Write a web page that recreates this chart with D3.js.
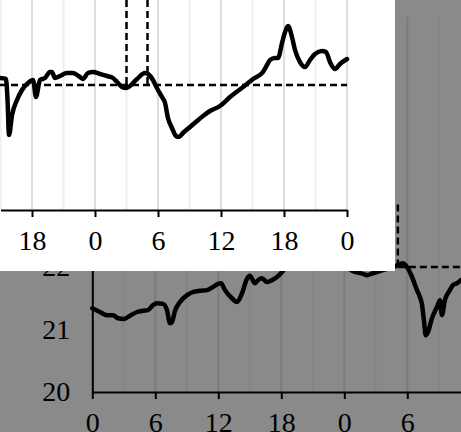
<!DOCTYPE html>
<html>
<head>
<meta charset="utf-8">
<script src="https://cdn.jsdelivr.net/npm/d3@7"></script>
<style>
  html, body { margin: 0; padding: 0; background: #8a8a8a; overflow: hidden; }
  text { font-family: "Liberation Serif", "Times New Roman", serif; }
</style>
</head>
<body>
<div id="wrapper"></div>
<script>
// background chart: hours since start of day 1, temperature
const bgHours = [0, 0.73, 1.4, 1.97, 2.45, 3.02, 3.59, 4.26, 4.83, 5.3, 5.78, 6.16, 6.73, 7.11, 7.4, 7.59, 7.88, 8.35,
  9.02, 9.59, 10.26, 10.92, 11.5, 11.97, 12.26, 12.64, 13.3, 13.78, 14.26, 14.73, 15.0, 15.5, 15.78, 16.16, 16.64,
  17.12, 17.59, 18.07, 18.35, 19.8, 21.7, 23.6, 24.73, 25.78, 26.16, 26.73, 27.68, 28.64, 29.11, 29.59, 29.97,
  30.45, 30.92, 31.2, 31.4, 31.6, 31.75, 31.97, 32.35, 32.83, 33.11, 33.3, 33.58, 34.06, 34.35, 34.73, 35.11];
const bgTemps = [21.34, 21.28, 21.23, 21.23, 21.18, 21.17, 21.22, 21.28, 21.30, 21.31, 21.39, 21.42, 21.41, 21.31,
  21.10, 21.12, 21.30, 21.44, 21.55, 21.60, 21.62, 21.63, 21.68, 21.73, 21.74, 21.63, 21.50, 21.44, 21.58, 21.81,
  21.86, 21.74, 21.79, 21.82, 21.76, 21.79, 21.84, 21.92, 21.98, 22.2, 22.27, 22.08, 21.94, 21.89, 21.87, 21.90,
  21.95, 22.0, 22.03, 22.06, 22.0, 21.84, 21.63, 21.52, 21.40, 21.12, 20.91, 20.96, 21.18, 21.36, 21.47, 21.23,
  21.47, 21.63, 21.71, 21.74, 21.79];
const bgXTicks = [0, 6, 12, 18, 24, 30];
const bgXLabels = ["0", "6", "12", "18", "0", "6"];
const bgYTicks = [20, 21, 22, 23, 24, 25, 26];
const bgThreshold = 22.0;
const bgMark = { hour: 29.1, top: 23.0 };

// inset chart: hours relative to midnight of its first full day
const inHours = [-9.05, -8.48, -8.33, -8.19, -7.9, -7.43, -6.95, -6.38, -5.9, -5.62, -5.24, -4.76, -4.29, -4.1,
  -3.81, -3.33, -2.67, -2.1, -1.43, -1.14, -0.67, -0.19, 0.48, 1.14, 1.71, 2.1, 2.57, 2.95, 3.33, 4.0, 4.76, 5.05,
  5.52, 5.9, 6.38, 6.67, 6.95, 7.33, 7.71, 8.0, 8.38, 9.05, 9.71, 10.29, 10.95, 11.9, 12.86, 14.1, 15.05, 16.0,
  16.38, 16.67, 17.14, 17.43, 17.81, 18.1, 18.38, 18.76, 19.05, 19.52, 20.0, 20.48, 20.95, 21.62, 22.0, 22.38,
  22.86, 23.33, 24.0];
const inTemps = [22.07, 22.06, 21.85, 21.50, 21.70, 21.85, 21.95, 22.02, 22.05, 21.88, 22.05, 22.07, 22.13, 22.13,
  22.07, 22.09, 22.12, 22.12, 22.08, 22.06, 22.12, 22.13, 22.11, 22.09, 22.07, 22.03, 21.98, 21.97, 21.99, 22.06,
  22.12, 22.11, 22.05, 21.97, 21.88, 21.82, 21.67, 21.57, 21.49, 21.48, 21.52, 21.58, 21.64, 21.69, 21.74, 21.79,
  21.88, 21.98, 22.06, 22.13, 22.20, 22.25, 22.27, 22.27, 22.42, 22.53, 22.59, 22.48, 22.35, 22.23, 22.18, 22.25,
  22.31, 22.34, 22.33, 22.23, 22.16, 22.21, 22.26];
const inXTicks = [-6, 0, 6, 12, 18, 24];
const inXLabels = ["18", "0", "6", "12", "18", "0"];
const inThreshold = 22.0;
const inMarks = [3, 5];

const W = 461, H = 432;
const FS = 28;
const svg = d3.select("#wrapper").append("svg").attr("width", W).attr("height", H);

svg.append("rect").attr("width", W).attr("height", H).attr("fill", "#8a8a8a");

const styleText = g => g.selectAll("text").attr("font-size", FS).attr("fill", "#000")
  .attr("font-family", "Liberation Serif");
const dashed = sel => sel.attr("stroke", "#000").attr("stroke-width", 2.5).attr("stroke-dasharray", "7,4");

// ---------- background chart ----------
const bx = d3.scaleLinear().domain([0, 36]).range([92.3, 470.3]);
const by = d3.scaleLinear().domain([20, 26]).range([392, 17]);

const bgGrid = svg.append("g");
d3.range(3, 37, 3).forEach(h => {
  bgGrid.append("line")
    .attr("x1", bx(h)).attr("x2", bx(h))
    .attr("y1", by(26)).attr("y2", by(20))
    .attr("stroke", h % 6 === 0 ? "#7b7b7b" : "#838383")
    .attr("stroke-width", h % 6 === 0 ? 2 : 1.5);
});

const bgXAxis = d3.axisBottom(bx).tickValues(bgXTicks)
  .tickFormat((d, i) => bgXLabels[i]).tickSize(7).tickSizeOuter(0).tickPadding(13);
svg.append("g").attr("transform", `translate(0,${by(20)})`).call(bgXAxis)
  .call(g => g.select(".domain").attr("stroke", "#000").attr("stroke-width", 2))
  .call(g => g.selectAll(".tick line").attr("stroke", "#000").attr("stroke-width", 2))
  .call(styleText);

const bgYAxis = d3.axisLeft(by).tickValues(bgYTicks).tickFormat(d3.format("d"))
  .tickSize(0).tickPadding(22);
svg.append("g").attr("transform", `translate(${bx(0)},0)`).call(bgYAxis)
  .call(g => g.select(".domain").attr("stroke", "#000").attr("stroke-width", 2))
  .call(styleText);

// threshold markers
svg.append("line")
  .attr("x1", bx(bgMark.hour)).attr("x2", W)
  .attr("y1", by(bgThreshold)).attr("y2", by(bgThreshold))
  .call(dashed);
svg.append("line")
  .attr("x1", bx(bgMark.hour)).attr("x2", bx(bgMark.hour))
  .attr("y1", by(bgMark.top)).attr("y2", by(bgThreshold))
  .call(dashed);

const bgLine = d3.line().x((d, i) => bx(bgHours[i])).y(d => by(d)).curve(d3.curveMonotoneX);
svg.append("path").datum(bgTemps).attr("d", bgLine)
  .attr("fill", "none").attr("stroke", "#000").attr("stroke-width", 4.5)
  .attr("stroke-linejoin", "round").attr("stroke-linecap", "round");

// ---------- inset ----------
const inset = svg.append("g");
inset.append("rect").attr("x", 0).attr("y", 0).attr("width", 395).attr("height", 271).attr("fill", "#fff");

inset.append("clipPath").attr("id", "inclip")
  .append("rect").attr("x", 0).attr("y", 0).attr("width", 395).attr("height", 271);

const ix = d3.scaleLinear().domain([-9, 24]).range([0.5, 347]);
const iy = d3.scaleLinear().domain([20.75, 22.85]).range([210, 0]);

const inGrid = inset.append("g");
d3.range(-9, 25, 3).forEach(h => {
  inGrid.append("line")
    .attr("x1", ix(h)).attr("x2", ix(h))
    .attr("y1", 0).attr("y2", iy(20.75))
    .attr("stroke", h % 6 === 0 ? "#dcdcdc" : "#eeeeee")
    .attr("stroke-width", 2);
});

const inXAxis = d3.axisBottom(ix).tickValues(inXTicks)
  .tickFormat((d, i) => inXLabels[i]).tickSize(7).tickSizeOuter(0).tickPadding(13);
inset.append("g").attr("transform", `translate(0,${iy(20.75)})`).call(inXAxis)
  .call(g => g.select(".domain").attr("stroke", "#000").attr("stroke-width", 2))
  .call(g => g.selectAll(".tick line").attr("stroke", "#000").attr("stroke-width", 2))
  .call(styleText);

inset.append("line")
  .attr("x1", 0).attr("x2", ix(24))
  .attr("y1", iy(inThreshold)).attr("y2", iy(inThreshold))
  .call(dashed);
inMarks.forEach(h => {
  inset.append("line")
    .attr("x1", ix(h)).attr("x2", ix(h))
    .attr("y1", 0).attr("y2", iy(inThreshold))
    .call(dashed);
});

const inLine = d3.line().x((d, i) => ix(inHours[i])).y(d => iy(d)).curve(d3.curveMonotoneX);
inset.append("path").datum(inTemps).attr("d", inLine).attr("clip-path", "url(#inclip)")
  .attr("fill", "none").attr("stroke", "#000").attr("stroke-width", 4.5)
  .attr("stroke-linejoin", "round").attr("stroke-linecap", "round");
</script>
</body>
</html>
